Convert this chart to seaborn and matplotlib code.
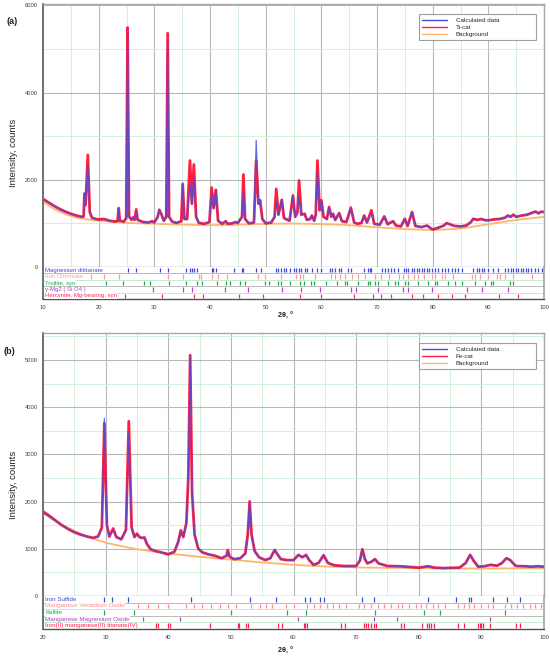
import pandas as pd
import seaborn as sns
import matplotlib.pyplot as plt
from matplotlib.ticker import MultipleLocator

# ---------------- panel (a): Ti-cat ----------------
tt_a = [10.0, 11.0, 12.0, 13.0, 14.0, 15.0, 16.0, 17.0, 17.3, 17.45,
        17.65, 18.05, 18.4, 18.8, 19.5, 20.0, 21.0, 22.0, 23.0, 23.4,
        23.6, 23.8, 24.5, 24.95, 25.2, 25.45, 25.9, 26.2, 26.45, 26.75,
        27.0, 28.0, 29.0, 29.6, 30.0, 30.6, 30.9, 31.3, 31.7, 32.15,
        32.4, 32.65, 33.2, 34.0, 34.85, 35.1, 35.4, 35.9, 36.4, 36.75,
        37.1, 37.5, 38.0, 39.0, 39.9, 40.3, 40.65, 41.05, 41.45, 42.2,
        42.8, 43.2, 44.0, 44.5, 45.0, 45.75, 46.0, 46.3, 47.0, 47.9,
        48.3, 48.7, 49.0, 49.4, 50.0, 51.0, 51.6, 51.9, 52.3, 52.9,
        53.3, 54.3, 54.9, 55.3, 55.7, 56.0, 56.4, 57.0, 57.4, 58.0,
        58.3, 58.7, 59.0, 59.3, 59.7, 60.0, 60.4, 61.0, 61.4, 61.8,
        62.1, 62.5, 63.2, 63.7, 64.5, 65.3, 65.9, 66.5, 67.2, 67.7,
        68.2, 69.0, 69.5, 70.5, 71.3, 71.9, 72.9, 73.4, 74.3, 75.0,
        75.5, 76.3, 76.9, 78.0, 79.0, 79.5, 80.0, 81.0, 82.0, 82.5,
        83.5, 84.0, 85.0, 86.0, 86.8, 87.3, 88.0, 88.7, 89.5, 90.0,
        91.0, 92.0, 93.0, 93.5, 94.0, 94.5, 95.0, 96.0, 97.0, 98.0,
        98.5, 99.0, 99.5, 100.0]
obs_a = [1560, 1480, 1400, 1330, 1270, 1220, 1180, 1150, 1160, 1680,
         1420, 2570, 1260, 1130, 1100, 1090, 1100, 1060, 1040, 1060,
         1350, 1060, 1040, 1120, 5490, 1160, 1080, 1140, 1080, 1320,
         1080, 1030, 1020, 1050, 1020, 1150, 1310, 1200, 1060, 1150,
         5360, 1150, 1040, 1010, 1050, 1900, 1100, 1100, 2440, 1450,
         2350, 1150, 1010, 990, 1030, 1820, 1350, 1770, 1060, 990,
         1050, 990, 1000, 1030, 1010, 1150, 2120, 1100, 1000, 1020,
         2440, 1450, 1530, 1100, 1000, 1020, 1150, 1790, 1200, 1540,
         1120, 1060, 1640, 1150, 1250, 1985, 1200, 1220, 1080, 1100,
         1180, 1060, 1200, 2440, 1300, 1530, 1150, 1100, 1375, 1150,
         1220, 1080, 1235, 1050, 1030, 1360, 1020, 990, 1010, 1180,
         1020, 1300, 990, 970, 1160, 980, 1050, 950, 930, 1105,
         940, 1260, 940, 915, 950, 900, 860, 900, 950, 1007,
         960, 940, 930, 950, 1020, 1105, 1080, 1100, 1070, 1070,
         1090, 1100, 1130, 1180, 1150, 1200, 1150, 1180, 1200, 1250,
         1270, 1230, 1270, 1260]
calc_a = [1560, 1480, 1400, 1330, 1270, 1220, 1180, 1150, 1160, 1700,
          1450, 2370, 1250, 1130, 1100, 1090, 1090, 1060, 1040, 1060,
          1340, 1060, 1040, 1120, 5380, 1150, 1080, 1130, 1080, 1250,
          1080, 1030, 1020, 1050, 1020, 1150, 1320, 1200, 1060, 1150,
          5190, 1150, 1040, 1010, 1050, 1930, 1100, 1100, 1900, 1450,
          2060, 1150, 1010, 990, 1030, 1700, 1350, 1760, 1060, 990,
          1050, 990, 1000, 1030, 1010, 1150, 1760, 1100, 1000, 1020,
          2900, 1450, 1530, 1100, 1000, 1020, 1150, 1530, 1200, 1540,
          1120, 1060, 1640, 1150, 1250, 1600, 1200, 1220, 1080, 1100,
          1180, 1060, 1200, 2210, 1300, 1530, 1150, 1100, 1375, 1150,
          1220, 1080, 1235, 1050, 1030, 1360, 1020, 990, 1010, 1180,
          1020, 1240, 990, 970, 1160, 980, 1050, 950, 930, 1105,
          940, 1260, 940, 915, 950, 900, 860, 900, 950, 1007,
          960, 940, 930, 950, 1020, 1105, 1080, 1100, 1070, 1070,
          1090, 1100, 1130, 1180, 1150, 1200, 1150, 1180, 1200, 1250,
          1270, 1230, 1270, 1260]
bg_tt_a = [10, 12, 14, 16, 18, 20, 25, 30, 35, 40, 45, 50, 55, 60, 65, 70, 75, 80, 85, 90, 95, 100]
bg_a = [1500, 1330, 1210, 1130, 1090, 1060, 1010, 990, 970, 960, 970, 990, 995, 985, 960,
        910, 870, 845, 880, 980, 1080, 1150]

phase_names_a = ["Magnesium dititanate", "Iron Chromate", "Troilite, syn",
                 "\u03b3-Mg2 ( Si O4 )", "Hercynite, Mg-bearing, syn"]
phase_ticks_a = [
    [25.3, 26.7, 31.0, 32.4, 35.7, 36.4, 36.8, 37.1, 37.6, 40.3, 40.6, 41.0, 44.4, 45.7,
     45.9, 48.3, 49.1, 51.9, 52.3, 52.8, 53.3, 53.7, 54.3, 55.1, 55.5, 55.9, 56.4, 57.0,
     57.4, 58.3, 59.3, 60.0, 61.5, 61.9, 62.4, 63.1, 63.6, 64.8, 65.3, 67.7, 68.3, 68.7,
     69.0, 70.9, 71.4, 72.0, 72.5, 73.1, 73.8, 74.9, 75.2, 75.6, 76.2, 76.7, 77.1, 77.6,
     78.0, 78.5, 78.9, 79.3, 79.8, 80.4, 81.0, 81.6, 82.2, 82.8, 83.4, 84.0, 84.6, 85.2,
     87.3, 87.9, 88.3, 88.8, 89.3, 90.0, 90.9, 91.7, 93.0, 93.6, 94.1, 94.5, 95.0, 95.4,
     95.9, 96.3, 96.8, 97.2, 97.7, 98.3, 99.0, 99.6],
    [18.7, 21.0, 23.6, 32.5, 35.2, 38.0, 38.3, 40.3, 41.5, 43.0, 48.7, 49.9, 52.8, 55.5,
     56.1, 56.7, 58.9, 61.7, 62.4, 63.3, 64.2, 65.5, 66.6, 67.8, 69.6, 70.7, 72.1, 73.9,
     74.7, 75.6, 76.7, 77.4, 78.5, 79.8, 80.4, 81.6, 82.3, 83.7, 87.0, 87.6, 88.5, 90.0,
     91.5, 92.1, 93.0, 94.5, 97.8, 99.9],
    [21.3, 24.3, 28.1, 29.3, 32.6, 35.6, 37.6, 38.5, 41.2, 42.9, 43.6, 45.3, 46.2, 49.9,
     50.6, 52.3, 52.8, 54.3, 56.1, 56.9, 58.2, 58.7, 60.9, 62.9, 64.2, 64.7, 66.6, 68.3,
     68.7, 69.6, 70.1, 72.0, 73.3, 73.7, 75.0, 75.5, 77.4, 79.1, 80.4, 80.8, 82.8, 84.0,
     85.2, 87.6, 89.4, 90.5, 90.9, 93.9, 94.5],
    [29.8, 35.1, 36.7, 42.7, 46.8, 52.9, 56.4, 59.7, 65.3, 66.3, 70.2, 74.7, 75.6, 79.8,
     86.1, 88.8, 93.6],
    [24.8, 31.4, 37.1, 38.8, 45.2, 49.6, 56.1, 59.9, 65.9, 69.3, 70.8, 72.6, 76.2, 78.3,
     81.0, 83.4, 85.8, 92.0, 95.3],
]

# ---------------- panel (b): Fe-cat ----------------
tt_b = [20.0, 21.0, 22.0, 23.0, 24.0, 25.0, 26.0, 27.0, 28.0, 28.8,
        29.4, 29.8, 30.2, 30.6, 31.2, 31.7, 32.5, 33.25, 33.7, 34.15,
        34.6, 35.0, 35.4, 35.8, 36.2, 36.6, 37.2, 38.0, 39.0, 40.0,
        41.0, 41.6, 42.0, 42.4, 42.9, 43.2, 43.5, 43.8, 44.2, 44.8,
        45.5, 46.5, 47.5, 48.5, 49.3, 49.5, 49.8, 50.5, 51.5, 52.3,
        52.7, 53.0, 53.3, 53.8, 54.5, 55.5, 56.3, 57.0, 57.5, 58.0,
        59.0, 60.0, 60.5, 60.8, 61.4, 62.0, 62.5, 63.2, 64.0, 64.8,
        65.5, 66.5, 68.0, 70.0, 70.6, 71.0, 71.4, 71.8, 72.5, 73.0,
        73.6, 75.0, 77.0, 79.0, 80.0, 81.5, 82.5, 84.0, 85.0, 86.5,
        87.5, 88.2, 88.8, 89.5, 90.5, 91.5, 92.5, 93.3, 94.0, 94.6,
        95.5, 97.0, 98.0, 99.0, 100.0]
obs_b = [1790, 1700, 1600, 1500, 1420, 1350, 1300, 1260, 1230, 1260,
         1450, 3660, 1500, 1260, 1430, 1250, 1200, 1400, 3700, 1450,
         1250, 1320, 1250, 1230, 1240, 1100, 990, 950, 920, 880,
         940, 1150, 1390, 1250, 1550, 2500, 5100, 2200, 1300, 1000,
         920, 880, 850, 800, 850, 975, 830, 780, 800, 900,
         1300, 2000, 1300, 950, 820, 760, 800, 975, 870, 780,
         760, 760, 830, 870, 820, 870, 760, 660, 700, 860,
         700, 650, 635, 635, 750, 990, 780, 690, 730, 780,
         690, 635, 630, 610, 600, 630, 600, 590, 595, 600,
         700, 870, 740, 620, 630, 660, 640, 700, 800, 760,
         635, 630, 620, 630, 620]
calc_b = [1760, 1680, 1600, 1500, 1420, 1350, 1300, 1260, 1230, 1260,
          1450, 3760, 1500, 1260, 1400, 1250, 1200, 1400, 3450, 1450,
          1250, 1300, 1250, 1220, 1220, 1100, 990, 950, 920, 890,
          940, 1150, 1350, 1250, 1550, 2500, 5060, 2200, 1300, 1000,
          920, 880, 850, 800, 850, 950, 830, 780, 800, 900,
          1300, 2020, 1300, 950, 820, 760, 800, 975, 870, 780,
          760, 760, 830, 870, 820, 870, 760, 660, 700, 880,
          700, 650, 635, 635, 750, 990, 780, 690, 730, 780,
          690, 635, 630, 610, 600, 630, 600, 590, 595, 600,
          700, 870, 740, 620, 630, 660, 640, 700, 810, 760,
          635, 630, 620, 630, 620]
bg_tt_b = [20, 22, 24, 26, 28, 30, 32, 35, 40, 45, 50, 55, 60, 65, 70, 80, 90, 100]
bg_b = [1760, 1580, 1440, 1320, 1220, 1130, 1070, 990, 900, 830, 770, 710, 660, 625,
        605, 588, 582, 586]

phase_names_b = ["Iron Sulfide", "Manganese Vanadium Oxide", "Keilite",
                 "Manganese Magnesium Oxide", "Iron(II) manganese(II) titanate(IV)"]
phase_ticks_b = [
    [29.7, 31.0, 33.6, 43.7, 53.1, 57.2, 61.9, 62.7, 64.3, 64.8, 71.0, 72.9, 81.5, 86.0,
     88.0, 88.4, 91.8, 94.1, 96.1],
    [35.2, 36.8, 38.3, 39.9, 42.8, 44.1, 45.4, 46.8, 48.2, 49.5, 50.8, 53.2, 54.6, 55.6,
     56.5, 58.8, 60.0, 62.1, 63.2, 64.3, 65.4, 66.3, 67.3, 68.4, 70.5, 71.3, 72.4, 73.5,
     74.4, 75.6, 76.7, 77.4, 78.5, 79.6, 80.4, 81.2, 82.2, 83.1, 84.2, 86.2, 87.2, 88.1,
     88.9, 89.9, 91.0, 91.8, 93.7, 94.7, 95.7, 96.6, 97.7, 98.5, 99.5],
    [29.8, 34.5, 50.0, 59.0, 62.0, 73.0, 80.9, 83.4, 93.7],
    [36.0, 41.9, 60.7, 72.8, 76.6, 91.4],
    [38.1, 38.3, 39.9, 40.2, 46.7, 51.1, 51.3, 52.4, 52.7, 57.6, 58.1, 61.6, 61.9, 62.1,
     67.6, 68.2, 71.2, 71.6, 71.9, 72.4, 72.8, 73.2, 77.2, 77.6, 80.5, 81.3, 81.7, 82.0,
     82.4, 86.2, 87.2, 89.5, 89.8, 90.0, 90.3, 91.3, 95.5, 96.1],
]

phase_colors_a = ["#3c46d8", "#ff9a9a", "#1aa84a", "#b444c8", "#ff2a55"]
phase_colors_b = ["#3c50c8", "#ff8c8c", "#16b05c", "#b040c4", "#ff2050"]

CALC_COLOR = "#4b4be0"
OBS_COLOR = "#ff2040"
BG_COLOR = "#ffb56b"

sns.set_theme(style="white")
plt.rcParams["font.family"] = ["Liberation Sans", "DejaVu Sans"]

W, H = 550, 656
fig = plt.figure(figsize=(W / 100, H / 100), dpi=100)


def px_axes(left, top, right, bottom):
    return fig.add_axes([left / W, 1 - bottom / H, (right - left) / W, (bottom - top) / H])


def draw_panel(main_top, main_bot, strip_bot, tt, obs, calc, bg_tt, bg, sample,
               xlim, ylim, ystep, names, colors, ticks, name_size):
    ax = px_axes(43, main_top, 544, main_bot)
    ax_s = px_axes(43, main_bot, 544, strip_bot)

    prof = pd.DataFrame({"tt": tt, "obs": obs, "calc": calc})
    back = pd.DataFrame({"tt": bg_tt, "bg": bg})

    sns.lineplot(data=back, x="tt", y="bg", ax=ax, color=BG_COLOR, lw=1.3, label="Background")
    sns.lineplot(data=prof, x="tt", y="obs", ax=ax, color=OBS_COLOR, lw=2.0, label=sample)
    sns.lineplot(data=prof, x="tt", y="calc", ax=ax, color=CALC_COLOR, lw=0.9, alpha=0.85,
                 label="Calculated data")

    ax.set_xlim(*xlim)
    ax.set_ylim(*ylim)
    ax.xaxis.set_major_locator(MultipleLocator(10))
    ax.xaxis.set_minor_locator(MultipleLocator(5))
    ax.yaxis.set_major_locator(MultipleLocator(ystep))
    ax.yaxis.set_minor_locator(MultipleLocator(ystep / 2))
    ax.grid(which="major", color="#b8b8b8", lw=0.8)
    ax.grid(which="minor", color="#cfeed8", lw=0.6)
    ax.set_axisbelow(True)
    ax.set_xlabel("")
    ax.set_ylabel("")
    ax.tick_params(axis="x", which="both", length=0, labelbottom=False)
    ax.tick_params(axis="y", which="major", length=2, width=0.6, labelsize=4.2,
                   pad=1.5, colors="#444444")
    ax.tick_params(axis="y", which="minor", length=0)
    for side, col, lw in [("left", "#707070", 1.4), ("top", "#a8a8a8", 1.0),
                          ("right", "#a8a8a8", 1.0), ("bottom", "#8a8a8a", 0.9)]:
        ax.spines[side].set_color(col)
        ax.spines[side].set_linewidth(lw)

    handles, labels = ax.get_legend_handles_labels()
    order = [labels.index("Calculated data"), labels.index(sample), labels.index("Background")]
    leg = ax.legend([handles[i] for i in order], [labels[i] for i in order],
                    loc="upper left", bbox_to_anchor=(0.744, 0.973, 0.246, 0), mode="expand",
                    fontsize=4.5, handlelength=4.0, handletextpad=1.4, labelspacing=0.3,
                    borderpad=0.5, frameon=True, fancybox=False, framealpha=1)
    leg.get_frame().set_edgecolor("#a0a0a0")
    leg.get_frame().set_linewidth(0.8)
    for line in leg.get_lines():
        line.set_linewidth(1.0)
        line.set_alpha(1)

    # phase reflection strip
    n = len(names)
    for i in range(n):
        y0 = n - 1 - i
        ax_s.vlines(ticks[i], y0 + 0.15, y0 + 0.85, color=colors[i], lw=0.9)
    for k in range(1, n):
        ax_s.axhline(k, color="#b0b0b0" if k % 2 == 0 else "#bfe8c8", lw=0.6, zorder=0)
    for i in range(n):
        y0 = n - 1 - i
        ax_s.text(xlim[0] + 0.35, y0 + 0.5, names[i], color=colors[i], fontsize=name_size,
                  va="center", ha="left",
                  bbox=dict(facecolor="white", edgecolor="none", pad=0.2))
    ax_s.set_xlim(*xlim)
    ax_s.set_ylim(0, n)
    ax_s.set_yticks([])
    ax_s.xaxis.set_major_locator(MultipleLocator(10))
    ax_s.tick_params(axis="x", which="major", length=2, width=0.6, labelsize=4.2, pad=2,
                     colors="#444444")
    ax_s.spines["top"].set_visible(False)
    ax_s.spines["left"].set_color("#707070")
    ax_s.spines["left"].set_linewidth(1.4)
    ax_s.spines["right"].set_color("#a8a8a8")
    ax_s.spines["bottom"].set_color("#505050")
    ax_s.spines["bottom"].set_linewidth(1.0)
    return ax, ax_s


draw_panel(4, 267, 299, tt_a, obs_a, calc_a, bg_tt_a, bg_a, "Ti-cat",
           (10, 100), (0, 6030), 2000, phase_names_a, phase_colors_a, phase_ticks_a, 4.3)
draw_panel(333, 596, 629, tt_b, obs_b, calc_b, bg_tt_b, bg_b, "Fe-cat",
           (20, 100), (0, 5570), 1000, phase_names_b, phase_colors_b, phase_ticks_b, 4.5)

fig.text(6 / W, 1 - 22 / H, "(a)", fontsize=6.5, fontweight="bold", va="center", ha="left")
fig.text(3 / W, 1 - 352 / H, "(b)", fontsize=6.5, fontweight="bold", va="center", ha="left")
for yc in (153, 485):
    fig.text(14 / W, 1 - yc / H, "Intensity, counts", rotation=90, fontsize=6.8,
             va="center", ha="center", color="#222222")
for yc in (316, 651):
    fig.text(285 / W, 1 - yc / H, "2\u03b8, \u00b0", fontsize=5.2, fontweight="bold",
             va="center", ha="center", color="#222222")

fig.savefig("out.png", dpi=100)
